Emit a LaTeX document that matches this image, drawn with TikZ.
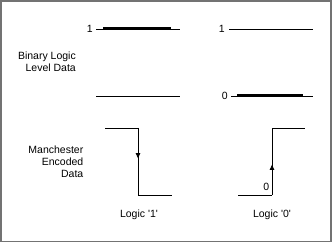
\documentclass[tikz,border=0pt]{standalone}
\usepackage{fontspec}
\setmainfont{Liberation Sans}
\usetikzlibrary{arrows.meta,decorations.markings}
\begin{document}
\begin{tikzpicture}[x=1pt,y=-1pt,
  lbl/.style={font=\fontsize{10.5}{12}\selectfont, inner sep=0pt},
  level/.style={line width=0.9pt},
  bold/.style={line width=1.6pt},
  wave/.style={line width=0.9pt},
  midarrow/.style={postaction={decorate},decoration={markings,mark=at position #1 with {\arrow{Triangle[length=5pt,width=4.5pt]}}}}
]
\useasboundingbox (0,0) rectangle (332,243);
\draw[draw=black!55, line width=1.6pt] (0.8,0.8) rectangle (330.8,241.6);

% binary logic levels
\node[lbl, anchor=east] (one1) at (93,29) {1};
\coordinate (a1) at (96,29); \coordinate (a2) at (180,29);
\draw[level] (a1) -- (a2);
\coordinate (ab1) at (103,28.3); \coordinate (ab2) at (171,28.3);
\draw[bold] (ab1) -- (ab2);

\node[lbl, anchor=east] (one2) at (225,29) {1};
\coordinate (b1) at (229,29); \coordinate (b2) at (313,29);
\draw[level] (b1) -- (b2);

\coordinate (c1) at (96,96); \coordinate (c2) at (180,96);
\draw[level] (c1) -- (c2);

\node[lbl, anchor=east] (zero2) at (228,96) {0};
\coordinate (d1) at (231,96); \coordinate (d2) at (313,96);
\draw[level] (d1) -- (d2);
\coordinate (db1) at (237,95.3); \coordinate (db2) at (303,95.3);
\draw[bold] (db1) -- (db2);

\node[lbl, anchor=east, align=right] (bl) at (76,62) {Binary Logic\\Level Data};

% Manchester
\node[lbl, anchor=east, align=right] (me) at (83.5,162) {Manchester\\Encoded\\Data};

\coordinate (e1) at (105,128); \coordinate (e2) at (138,128);
\coordinate (e3) at (138,195); \coordinate (e4) at (172,195);
\draw[wave] (e1) -- (e2);
\draw[wave, midarrow=0.45] (e2) -- (e3);
\draw[wave] (e3) -- (e4);

\coordinate (f1) at (238,195); \coordinate (f2) at (272,195);
\coordinate (f3) at (272,128); \coordinate (f4) at (305,128);
\draw[wave] (f1) -- (f2);
\draw[wave, midarrow=0.45] (f2) -- (f3);
\draw[wave] (f3) -- (f4);
\node[lbl, anchor=east] (z0) at (269.5,187) {0};

\node[lbl] (l1) at (139,215) {Logic \textquotesingle1\textquotesingle};
\node[lbl] (l0) at (272,215) {Logic \textquotesingle0\textquotesingle};
\end{tikzpicture}
\end{document}
